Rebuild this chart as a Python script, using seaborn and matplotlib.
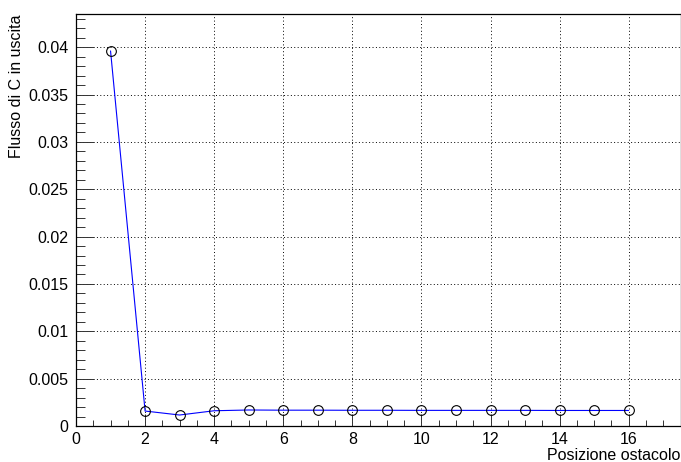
import matplotlib
matplotlib.use("Agg")
import matplotlib.pyplot as plt
import seaborn as sns
import pandas as pd
from matplotlib.ticker import MultipleLocator, FuncFormatter

# Data
posizione = [1, 2, 3, 4, 5, 6, 7, 8, 9, 10, 11, 12, 13, 14, 15, 16]
flusso = [0.0396, 0.00158, 0.00116, 0.00161, 0.00169, 0.00167, 0.00167, 0.00166,
          0.00166, 0.00165, 0.00165, 0.00165, 0.00165, 0.00164, 0.00164, 0.00164]
x_label = "Posizione ostacolo"
y_label = "Flusso di C in uscita"

df = pd.DataFrame({"x": posizione, "y": flusso})

sns.set_style("ticks")
plt.rcParams["font.family"] = ["Liberation Sans", "DejaVu Sans"]
plt.rcParams["text.color"] = "black"
plt.rcParams["axes.labelcolor"] = "black"
plt.rcParams["xtick.labelcolor"] = "black"
plt.rcParams["ytick.labelcolor"] = "black"

W, H = 681, 462
ax_left, ax_right, ax_top, ax_bottom = 76, 680.5, 14, 426
fig = plt.figure(figsize=(W / 100, H / 100), dpi=100)
ax = fig.add_axes([ax_left / W, (H - ax_bottom) / H,
                   (ax_right - ax_left) / W, (ax_bottom - ax_top) / H])
aw = ax_right - ax_left
ah = ax_bottom - ax_top

sns.lineplot(data=df, x="x", y="y", ax=ax, color="#0000ff", linewidth=0.8,
             marker="o", markersize=7, markerfacecolor="none",
             markeredgecolor="black", markeredgewidth=0.8, zorder=3)

ax.set_xlim(0, 17.5)
ax.set_ylim(0, 0.0435)

ax.xaxis.set_major_locator(MultipleLocator(2))
ax.xaxis.set_minor_locator(MultipleLocator(0.5))
ax.yaxis.set_major_locator(MultipleLocator(0.005))
ax.yaxis.set_minor_locator(MultipleLocator(0.001))
ax.yaxis.set_major_formatter(FuncFormatter(lambda v, p: "%g" % round(v, 6)))
ax.xaxis.set_major_formatter(FuncFormatter(lambda v, p: "%g" % v))

ax.grid(True, which="major", color="black", linestyle=(0, (1, 2.5)), linewidth=0.7)
ax.set_axisbelow(True)

for s in ax.spines.values():
    s.set_visible(True)
    s.set_color("black")
    s.set_linewidth(0.9)

ax.tick_params(axis="x", which="major", direction="in", length=8.6, width=0.7,
               labelsize=11.5, pad=4, top=False, color="#333333", labelcolor="black")
ax.tick_params(axis="x", which="minor", direction="in", length=4.3, width=0.7,
               top=False, color="#333333")
ax.tick_params(axis="y", which="major", direction="in", length=13, width=0.7,
               labelsize=11.5, pad=5.5, right=False, color="#333333", labelcolor="black")
ax.tick_params(axis="y", which="minor", direction="in", length=6.5, width=0.7,
               right=False, color="#333333")

ax.set_xlabel(x_label, fontsize=11.5, loc="right", color="black")
ax.set_ylabel(y_label, fontsize=11.5, loc="top", color="black")
ax.xaxis.set_label_coords(1.0, -(448 - ax_bottom) / ah)
ax.yaxis.set_label_coords(-(ax_left - 24) / aw, 1.0)

fig.savefig("out.png", dpi=100)
